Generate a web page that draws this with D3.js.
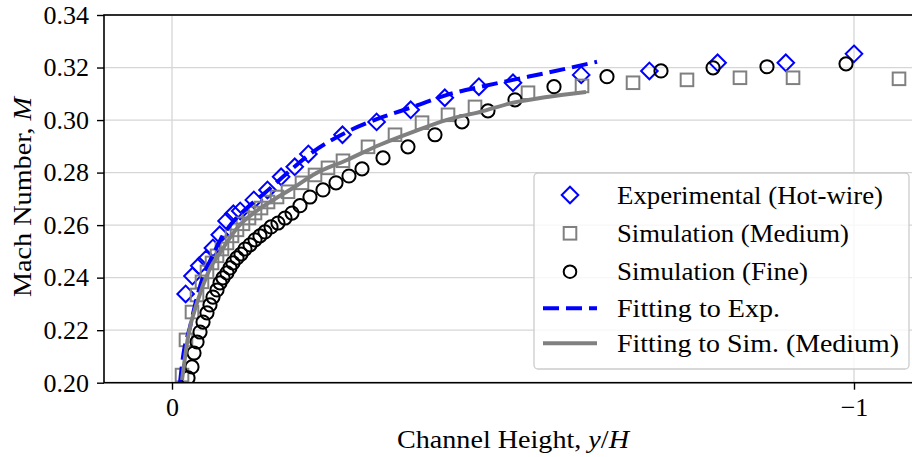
<!DOCTYPE html>
<html>
<head>
<meta charset="utf-8">
<script src="https://cdn.jsdelivr.net/npm/d3@7"></script>
<style>
  html, body { margin: 0; padding: 0; background: #fff; }
  svg { display: block; }
  text { font-family: "Liberation Serif", "Times New Roman", serif; fill: #000; }
</style>
</head>
<body>
<svg id="chart" width="912" height="457"></svg>
<script>
// ---------- data ----------
const expX = [-0.02,-0.03,-0.04,-0.05,-0.06,-0.07,-0.08,-0.09,-0.10,-0.12,-0.14,-0.16,-0.18,-0.20,-0.25,-0.30,-0.35,-0.40,-0.45,-0.50,-0.60,-0.70,-0.80,-0.90,-1.00];
const expM = [0.2338,0.2406,0.2445,0.2471,0.2513,0.2563,0.2616,0.2643,0.2654,0.2696,0.2734,0.2784,0.2822,0.2871,0.2944,0.2993,0.3039,0.3085,0.3127,0.3142,0.3172,0.3187,0.3218,0.3218,0.3252];

const simMedX = [-0.0147,-0.0205,-0.0293,-0.0367,-0.0440,-0.0513,-0.0587,-0.0660,-0.0733,-0.0806,-0.0880,-0.0953,-0.1041,-0.1129,-0.1217,-0.1305,-0.1408,-0.1540,-0.1701,-0.1906,-0.2097,-0.2287,-0.2507,-0.2874,-0.3270,-0.3666,-0.4047,-0.4443,-0.5220,-0.6012,-0.6760,-0.7551,-0.8328,-0.9106,-1.0660];
const simMedM = [0.2029,0.2163,0.2269,0.2334,0.2384,0.2422,0.2456,0.2483,0.2509,0.2532,0.2559,0.2582,0.2605,0.2627,0.2646,0.2665,0.2688,0.2707,0.2727,0.2761,0.2791,0.2818,0.2845,0.2898,0.2944,0.2990,0.3020,0.3050,0.3104,0.3130,0.3142,0.3153,0.3161,0.3161,0.3157];

const simFineX = [-0.0235,-0.0293,-0.0323,-0.0367,-0.0411,-0.0455,-0.0513,-0.0557,-0.0601,-0.0660,-0.0704,-0.0748,-0.0806,-0.0850,-0.0894,-0.0953,-0.1012,-0.1070,-0.1144,-0.1217,-0.1290,-0.1364,-0.1452,-0.1554,-0.1657,-0.1760,-0.1877,-0.2023,-0.2214,-0.2405,-0.2595,-0.2786,-0.3094,-0.3460,-0.3856,-0.4252,-0.4633,-0.5029,-0.5601,-0.6378,-0.7170,-0.7933,-0.8724,-0.9883];
const simFineM = [0.2018,0.2060,0.2113,0.2155,0.2193,0.2231,0.2266,0.2296,0.2326,0.2353,0.2380,0.2399,0.2418,0.2437,0.2456,0.2475,0.2490,0.2509,0.2525,0.2544,0.2559,0.2574,0.2593,0.2608,0.2627,0.2646,0.2674,0.2707,0.2734,0.2761,0.2787,0.2814,0.2856,0.2898,0.2944,0.2993,0.3035,0.3077,0.3127,0.3165,0.3187,0.3199,0.3203,0.3214];

const fitExpX = [-0.0117,-0.0161,-0.0264,-0.0367,-0.0455,-0.0587,-0.0733,-0.0880,-0.1114,-0.1364,-0.1657,-0.2067,-0.2566,-0.3050,-0.3534,-0.4032,-0.4516,-0.5000,-0.5499,-0.6232];
const fitExpM = [0.2000,0.2098,0.2212,0.2326,0.2403,0.2479,0.2555,0.2608,0.2669,0.2723,0.2791,0.2879,0.2955,0.3008,0.3050,0.3096,0.3126,0.3153,0.3180,0.3222];

const fitSimX = [-0.0147,-0.0235,-0.0381,-0.0528,-0.0733,-0.0968,-0.1261,-0.1554,-0.1804,-0.2067,-0.2566,-0.3050,-0.3534,-0.4032,-0.4516,-0.5000,-0.5499,-0.6070];
const fitSimM = [0.2010,0.2174,0.2315,0.2418,0.2506,0.2593,0.2658,0.2707,0.2746,0.2791,0.2848,0.2906,0.2955,0.3001,0.3031,0.3066,0.3088,0.3107];

const yTicks = [0.20,0.22,0.24,0.26,0.28,0.30,0.32,0.34];
const yTickLabels = ["0.20","0.22","0.24","0.26","0.28","0.30","0.32","0.34"];
const xTicks = [0,-1];
const xTickLabels = ["0","\u22121"];
const legendLabels = ["Experimental (Hot-wire)","Simulation (Medium)","Simulation (Fine)","Fitting to Exp.","Fitting to Sim. (Medium)"];

// ---------- layout ----------
const L = 104, R = 916, T = 15, B = 382.7;
const FS = 26;
const svg = d3.select("#chart");

const x = d3.scaleLinear().domain([(172 - L) / 682, -(R - 172) / 682]).range([L, R]);
const y = d3.scaleLinear().domain([0.20, 0.34]).range([B, T]);

// clip
svg.append("defs").append("clipPath").attr("id", "clip")
  .append("rect").attr("x", L).attr("y", T).attr("width", R - L).attr("height", B - T);

// grid
const grid = svg.append("g");
grid.selectAll(".gy").data(yTicks).join("line")
  .attr("x1", L).attr("x2", R).attr("y1", d => y(d)).attr("y2", d => y(d))
  .attr("stroke", "#d6d6d6").attr("stroke-width", 1.3);
grid.selectAll(".gx").data(xTicks).join("line")
  .attr("y1", T).attr("y2", B).attr("x1", d => x(d)).attr("x2", d => x(d))
  .attr("stroke", "#d6d6d6").attr("stroke-width", 1.3);

// marks
const plot = svg.append("g").attr("clip-path", "url(#clip)");
const zip = (a, b) => a.map((v, i) => [v, b[i]]);

const diamond = (s) => `M0,${-s}L${s},0L0,${s}L${-s},0Z`;
plot.append("g").selectAll("path").data(zip(expX, expM)).join("path")
  .attr("d", diamond(8.3))
  .attr("transform", d => `translate(${x(d[0])},${y(d[1])})`)
  .attr("fill", "none").attr("stroke", "#0000ff").attr("stroke-width", 2);

plot.append("g").selectAll("rect").data(zip(simMedX, simMedM)).join("rect")
  .attr("x", d => x(d[0]) - 6.3).attr("y", d => y(d[1]) - 6.3)
  .attr("width", 12.6).attr("height", 12.6)
  .attr("fill", "none").attr("stroke", "#808080").attr("stroke-width", 2);

plot.append("g").selectAll("circle").data(zip(simFineX, simFineM)).join("circle")
  .attr("cx", d => x(d[0])).attr("cy", d => y(d[1])).attr("r", 6.6)
  .attr("fill", "none").attr("stroke", "#000").attr("stroke-width", 2);

const line = d3.line().x(d => x(d[0])).y(d => y(d[1])).curve(d3.curveMonotoneX);
plot.append("path").datum(zip(fitExpX, fitExpM)).attr("d", line)
  .attr("fill", "none").attr("stroke", "#0000ff").attr("stroke-width", 4)
  .attr("stroke-dasharray", "16,7");
plot.append("path").datum(zip(fitSimX, fitSimM)).attr("d", line)
  .attr("fill", "none").attr("stroke", "#808080").attr("stroke-width", 4);

// axes
const yAxis = d3.axisLeft(y).tickValues(yTicks).tickFormat((d, i) => yTickLabels[i])
  .tickSize(7).tickPadding(8);
const gy = svg.append("g").attr("transform", `translate(${L},0)`).call(yAxis);
const xAxis = d3.axisBottom(x).tickValues(xTicks).tickFormat((d, i) => xTickLabels[i])
  .tickSize(7).tickPadding(8);
const gx = svg.append("g").attr("transform", `translate(0,${B})`).call(xAxis);
[gx, gy].forEach(g => {
  g.select(".domain").remove();
  g.selectAll(".tick line").attr("stroke", "#000").attr("stroke-width", 1.4);
  g.selectAll(".tick text").attr("font-size", FS).attr("font-family", "Liberation Serif, serif").attr("fill", "#000");
});

// spines
svg.append("rect").attr("x", L).attr("y", T).attr("width", R - L).attr("height", B - T)
  .attr("fill", "none").attr("stroke", "#000").attr("stroke-width", 1.6);

// axis labels
const xl = svg.append("text").attr("x", 397).attr("y", 448).attr("font-size", FS)
  .attr("textLength", 232).attr("lengthAdjust", "spacingAndGlyphs");
xl.append("tspan").text("Channel Height, ");
xl.append("tspan").attr("font-style", "italic").text("y");
xl.append("tspan").text("/");
xl.append("tspan").attr("font-style", "italic").text("H");

const yl = svg.append("text").attr("transform", "translate(31,197) rotate(-90)")
  .attr("text-anchor", "middle").attr("font-size", FS)
  .attr("textLength", 200).attr("lengthAdjust", "spacingAndGlyphs");
yl.append("tspan").text("Mach Number, ");
yl.append("tspan").attr("font-style", "italic").text("M");

// legend
const lg = svg.append("g");
lg.append("rect").attr("x", 534).attr("y", 173).attr("width", 375).attr("height", 196)
  .attr("rx", 4).attr("fill", "#fff").attr("fill-opacity", 0.8)
  .attr("stroke", "#cccccc").attr("stroke-width", 1.3);
const rowY = [195, 233.3, 271.7, 308.3, 343.3];
const textW = [266, 232, 191, 163, 282];
const mx = 570;
lg.append("path").attr("d", diamond(8.3)).attr("transform", `translate(${mx},${rowY[0]})`)
  .attr("fill", "none").attr("stroke", "#0000ff").attr("stroke-width", 2);
lg.append("rect").attr("x", mx - 6.3).attr("y", rowY[1] - 6.3).attr("width", 12.6).attr("height", 12.6)
  .attr("fill", "none").attr("stroke", "#808080").attr("stroke-width", 2);
lg.append("circle").attr("cx", mx).attr("cy", rowY[2]).attr("r", 6.3)
  .attr("fill", "none").attr("stroke", "#000").attr("stroke-width", 2);
lg.append("line").attr("x1", 543).attr("x2", 597).attr("y1", rowY[3]).attr("y2", rowY[3])
  .attr("stroke", "#0000ff").attr("stroke-width", 4).attr("stroke-dasharray", "16,7");
lg.append("line").attr("x1", 543).attr("x2", 597).attr("y1", rowY[4]).attr("y2", rowY[4])
  .attr("stroke", "#808080").attr("stroke-width", 4);
lg.selectAll("text.lab").data(legendLabels).join("text").attr("class", "lab")
  .attr("x", 617).attr("y", (d, i) => rowY[i] + 8.5).attr("font-size", FS)
  .attr("textLength", (d, i) => textW[i]).attr("lengthAdjust", "spacingAndGlyphs")
  .text(d => d);
</script>
</body>
</html>
